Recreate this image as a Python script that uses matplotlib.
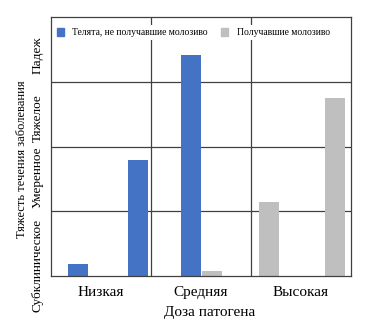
import matplotlib.pyplot as plt
from matplotlib.patches import Patch

plt.rcParams.update({'font.family': ['Liberation Serif', 'DejaVu Serif']})

# Pathogen dose groups and severity scale
doses = ['Низкая', 'Средняя', 'Высокая']
severity = ['Субклиническое', 'Умеренное', 'Тяжелое', 'Падеж']

# Calves without colostrum: dose group index and severity score
no_col_dose = [0, 0, 1]
no_col_value = [0.19, 1.79, 3.42]

# Calves that received colostrum
col_dose = [1, 2, 2]
col_value = [0.08, 1.14, 2.75]

# where each bar sits inside its dose group (fraction of the group width)
no_col_offset = [0.27, 0.87, 0.40]
col_offset = [0.61, 0.18, 0.84]
bar_w = 0.2

blue = '#4472C4'
grey = '#BFBFBF'
line_col = '#404040'

fig = plt.figure(figsize=(3.84, 3.23), dpi=100)
ax = fig.add_axes([0.133, 0.1455, 0.781, 0.8005])

ax.bar([d + o for d, o in zip(no_col_dose, no_col_offset)], no_col_value,
       width=bar_w, color=blue, zorder=3)
ax.bar([d + o for d, o in zip(col_dose, col_offset)], col_value,
       width=bar_w, color=grey, zorder=3)

ax.set_xlim(0, 3)
ax.set_ylim(0, 4)

# grid: dose group separators and severity bands
for x in (1, 2):
    ax.axvline(x, color=line_col, lw=0.9, zorder=1)
for y in (1, 2, 3):
    ax.axhline(y, color=line_col, lw=0.9, zorder=1)
for s in ax.spines.values():
    s.set_color(line_col)
    s.set_linewidth(0.9)
    s.set_zorder(6)

ax.set_xticks([0.5, 1.5, 2.5])
ax.set_xticklabels(doses, fontsize=11)
ax.tick_params(axis='x', length=0, pad=7)
ax.set_yticks([])

# severity labels down the left side
label_y = [0.17, 1.53, 2.45, 3.42]
for name, y in zip(severity, label_y):
    ax.text(-0.045, y, name, rotation=90, ha='center', va='center',
            fontsize=9.5, transform=ax.get_yaxis_transform(), clip_on=False)
ax.text(-0.097, 0.452, 'Тяжесть течения заболевания', rotation=90,
        ha='center', va='center', fontsize=9, transform=ax.transAxes)

ax.set_xlabel('Доза патогена', fontsize=11, labelpad=0)
ax.xaxis.set_label_coords(0.53, -0.115)

handles = [Patch(color=blue, label='Телята, не получавшие молозиво'),
           Patch(color=grey, label='Получавшие молозиво')]
leg = ax.legend(handles=handles, loc='upper left', ncol=2, frameon=True,
                fontsize=6.9, handlelength=0.7, handleheight=0.9,
                handletextpad=0.9, columnspacing=1.4, borderpad=0.3,
                borderaxespad=0.0, bbox_to_anchor=(0.01, 0.97))
leg.get_frame().set_facecolor('white')
leg.get_frame().set_edgecolor('none')
leg.get_frame().set_alpha(1)
leg.get_frame().set_boxstyle('square', pad=0)
leg.set_zorder(5)

fig.savefig('out.png', dpi=100)
